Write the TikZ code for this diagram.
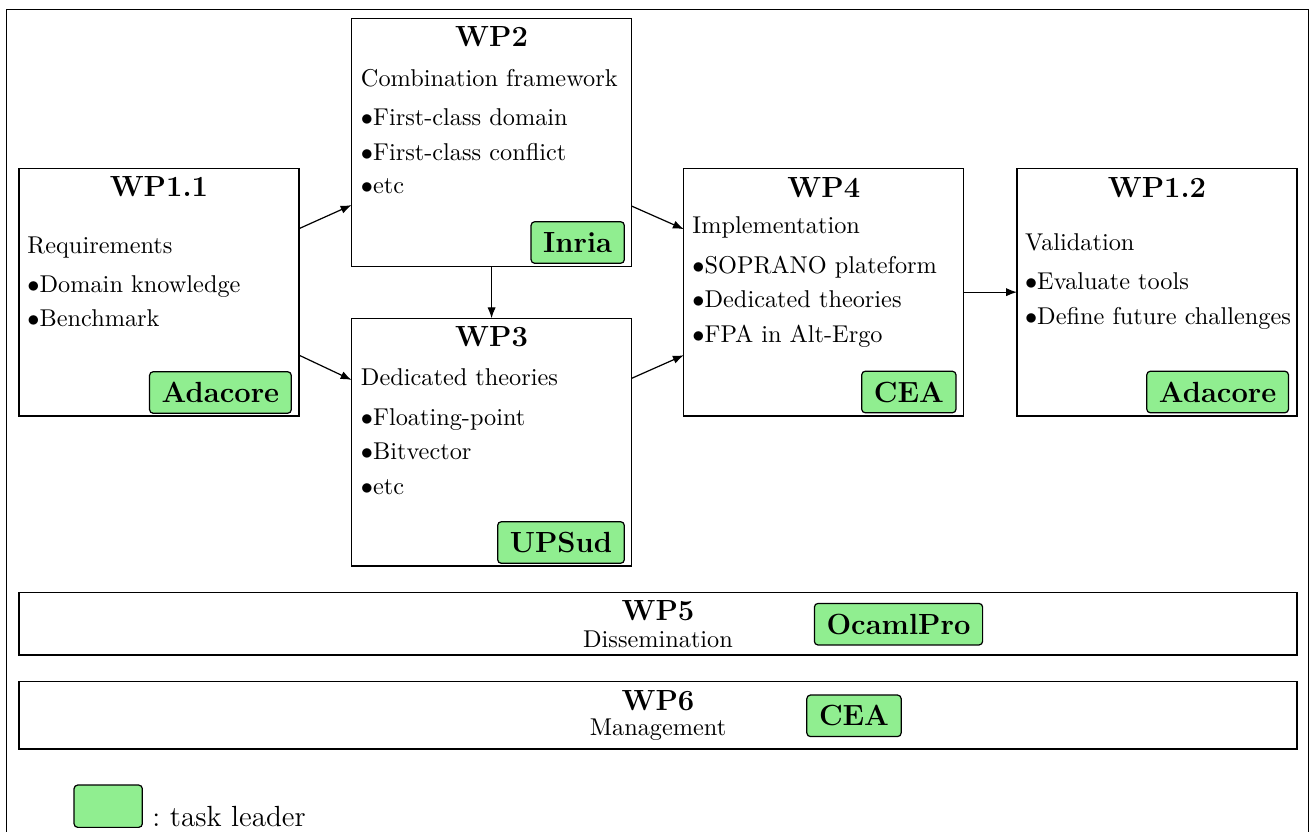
\documentclass[tikz,border=0pt]{standalone}
\usetikzlibrary{arrows.meta,calc}
\definecolor{leadergreen}{RGB}{144,238,144}
\begin{document}
\begin{tikzpicture}[x=0.4115pt,y=-0.4115pt,
  wpbox/.style={draw=black,line width=0.5pt,inner sep=0pt,outer sep=0pt,
    minimum width=280*0.4115pt,minimum height=247.7*0.4115pt},
  band/.style={draw=black,line width=0.5pt,inner sep=0pt,outer sep=0pt,
    minimum width=1278*0.4115pt},
  leader/.style={draw=black,line width=0.5pt,fill=leadergreen,rounded corners=1.5pt,
    inner xsep=5pt,inner ysep=0pt,outer sep=0pt,minimum height=17.1pt,
    font=\large\bfseries},
  wptitle/.style={anchor=base,font=\large\bfseries,inner sep=0pt},
  item/.style={anchor=base west,inner sep=0pt},
  arr/.style={-{Latex[length=4.5pt,width=3.4pt]},line width=0.5pt}]
\useasboundingbox (0,0) rectangle (1310,831);
\draw[line width=0.6pt] (6.7,845) -- (6.7,9.3) -- (1308.6,9.3) -- (1308.6,845);

% main boxes
\node[wpbox] (wp11) at (159,292.15) {};
\node[wpbox] (wp2) at (491.6,142.35) {};
\node[wpbox] (wp3) at (491.6,442.15) {};
\node[wpbox] (wp4) at (823.85,292.15) {};
\node[wpbox] (wp12) at (1157,292.15) {};

% WP1.1
\node[wptitle] (t11) at (159,196.7) {WP1.1};
\node[item] (r11a) at (27,253) {Requirements};
\node[item] (r11b) at (27,292.7) {$\bullet$Domain knowledge};
\node[item] (r11c) at (27,326.7) {$\bullet$Benchmark};
\node[leader,anchor=east] (l11) at (291.3,392.5) {Adacore};

% WP2
\node[wptitle] (t2) at (491.6,46.7) {WP2};
\node[item] (r2a) at (360.5,86) {Combination framework};
\node[item] (r2b) at (360.5,125) {$\bullet$First-class domain};
\node[item] (r2c) at (360.5,160) {$\bullet$First-class conflict};
\node[item] (r2d) at (360.5,193.5) {$\bullet$etc};
\node[leader,anchor=east] (l2) at (624.3,242.5) {Inria};

% WP3
\node[wptitle] (t3) at (491.6,346.7) {WP3};
\node[item] (r3a) at (360.5,385) {Dedicated theories};
\node[item] (r3b) at (360.5,425) {$\bullet$Floating-point};
\node[item] (r3c) at (360.5,459.3) {$\bullet$Bitvector};
\node[item] (r3d) at (360.5,494) {$\bullet$etc};
\node[leader,anchor=east] (l3) at (624.3,542.5) {UPSud};

% WP4
\node[wptitle] (t4) at (823.85,197) {WP4};
\node[item] (r4a) at (692,233) {Implementation};
\node[item] (r4b) at (692,273) {$\bullet$SOPRANO plateform};
\node[item] (r4c) at (692,307.5) {$\bullet$Dedicated theories};
\node[item] (r4d) at (692,342) {$\bullet$FPA in Alt-Ergo};
\node[leader,anchor=east] (l4) at (956,392) {CEA};

% WP1.2
\node[wptitle] (t12) at (1157,197) {WP1.2};
\node[item] (r12a) at (1024.6,250) {Validation};
\node[item] (r12b) at (1024.6,289) {$\bullet$Evaluate tools};
\node[item] (r12c) at (1024.6,324) {$\bullet$Define future challenges};
\node[leader,anchor=east] (l12) at (1288.5,392) {Adacore};

% arrows
\draw[arr] ($(wp11.east)+(0,-63.5)$) -- ($(wp2.west)+(0,62.7)$);
\draw[arr] ($(wp11.east)+(0,63)$) -- ($(wp3.west)+(0,-62.2)$);
\draw[arr] (wp2.south) -- (wp3.north);
\draw[arr] ($(wp2.east)+(0,63.7)$) -- ($(wp4.west)+(0,-63)$);
\draw[arr] ($(wp3.east)+(0,-63.8)$) -- ($(wp4.west)+(0,63)$);
\draw[arr] (wp4.east) -- (wp12.west);

% WP5 band
\node[band,minimum height=62.5*0.4115pt] (wp5) at (658,623.75) {};
\node[wptitle] (t5) at (658,620) {WP5};
\node[anchor=base,inner sep=0pt] (d5) at (658,647) {Dissemination};
\node[leader] (l5) at (898.5,624.2) {OcamlPro};

% WP6 band
\node[band,minimum height=67.3*0.4115pt] (wp6) at (658,715.35) {};
\node[wptitle] (t6) at (658,710) {WP6};
\node[anchor=base,inner sep=0pt] (d6) at (658,735) {Management};
\node[leader] (l6) at (854,715.8) {CEA};

% legend
\node[leader,minimum width=68.3*0.4115pt,minimum height=42.3*0.4115pt,inner sep=0pt] (leg) at (108.2,806.2) {};
\node[anchor=base west,inner sep=0pt,font=\large] (legt) at (152,826) {:\ task leader};
\end{tikzpicture}
\end{document}
